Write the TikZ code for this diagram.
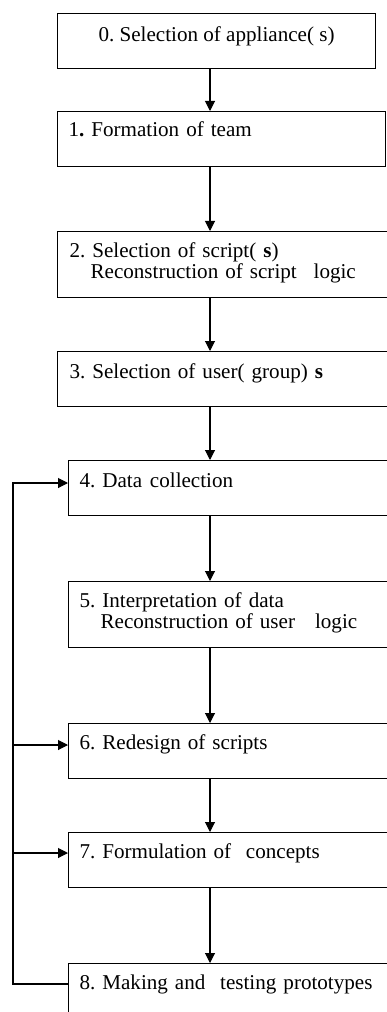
\documentclass[tikz,border=0pt]{standalone}
\usepackage{fontspec}
\setmainfont{Liberation Serif}
\frenchspacing
\usetikzlibrary{arrows.meta,calc}

\begin{document}
\begin{tikzpicture}[->,>={Triangle[length=2mm,width=2mm]},line width=0.6pt,
    box/.style={draw,rectangle,anchor=north west,minimum height=1.1cm,inner sep=0pt},
    tall box/.style={box,minimum height=1.32cm},
    step text/.style={anchor=base west,inner sep=0pt,text width=7cm,align=left,font=\fontsize{12}{12.3}\selectfont}]
            \useasboundingbox (0,0) rectangle (7.74,-20.24);

            \node[box,minimum width=6.36cm] (b0) at (1.14,-0.26) {};
            \node[box,minimum width=6.56cm] (b1) at (1.14,-2.22) {};
            \node[tall box,minimum width=6.8cm] (b2) at (1.14,-4.62) {};
            \node[box,minimum width=6.8cm] (b3) at (1.14,-7.02) {};
            \node[box,minimum width=6.6cm] (b4) at (1.36,-9.2) {};
            \node[tall box,minimum width=6.6cm] (b5) at (1.36,-11.62) {};
            \node[box,minimum width=6.6cm] (b6) at (1.36,-14.46) {};
            \node[box,minimum width=6.6cm] (b7) at (1.36,-16.64) {};
            \node[box,minimum width=6.6cm] (b8) at (1.36,-19.26) {};

            \node[anchor=base,inner sep=0pt,font=\fontsize{12}{12}\selectfont] (t0) at ($(b0.north)+(0,-0.58)$) {0. Selection of appliance( s)};
            \node[step text] (t1) at ($(b1.north west)+(0.22,-0.52)$) {1\textbf{.} Formation of team};
            \node[step text] (t2) at ($(b2.north west)+(0.24,-0.52)$) {2. Selection of script( \textbf{s})\\\hspace*{1em}Reconstruction of script\hspace{0.8em}logic};
            \node[step text] (t3) at ($(b3.north west)+(0.24,-0.54)$) {3. Selection of user( group) \textbf{s}};
            \node[step text] (t4) at ($(b4.north west)+(0.22,-0.54)$) {4. Data\hspace{0.37em}collection};
            \node[step text] (t5) at ($(b5.north west)+(0.22,-0.52)$) {5. Interpretation of data\\\hspace*{1em}Reconstruction of user\hspace{0.95em}logic};
            \node[step text] (t6) at ($(b6.north west)+(0.22,-0.52)$) {6. Redesign of scripts};
            \node[step text] (t7) at ($(b7.north west)+(0.22,-0.52)$) {7. Formulation of\hspace{0.7em}concepts};
            \node[step text] (t8) at ($(b8.north west)+(0.22,-0.52)$) {8. Making and\hspace{0.7em}testing prototypes};

            % main flow
            \coordinate (ax) at (4.2,0);
            \foreach \i [evaluate=\i as \j using int(\i+1)] in {0,...,7}
                \draw (b\i.south -| ax) -- (b\j.north -| ax);

            % feedback loop
            \coordinate (fb) at (0.26,0);
            \coordinate (in4) at ($(b4.north west)+(0,-0.46)$);
            \coordinate (in6) at ($(b6.north west)+(0,-0.44)$);
            \coordinate (in7) at ($(b7.north west)+(0,-0.42)$);
            \coordinate (out8) at ($(b8.north west)+(0,-0.42)$);
            \draw (out8) -- (out8 -| fb) -- (in4 -| fb) -- (in4);
            \draw (in6 -| fb) -- (in6);
            \draw (in7 -| fb) -- (in7);
        \end{tikzpicture}
\end{document}
